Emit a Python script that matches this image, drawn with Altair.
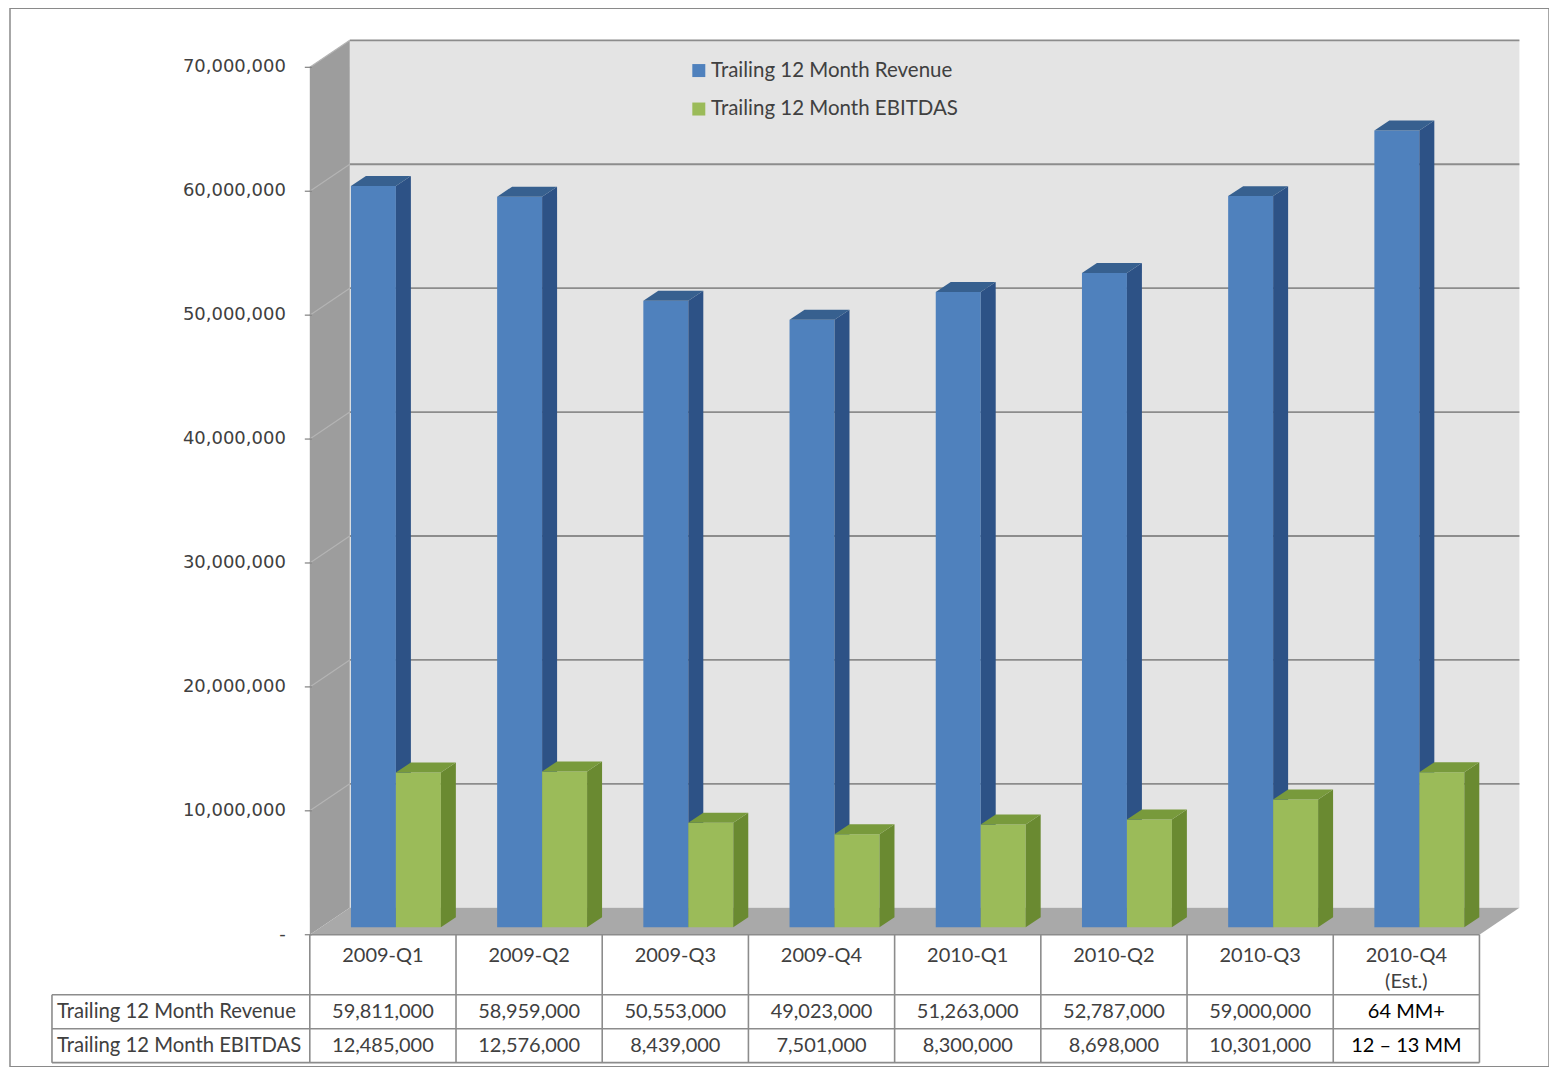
import altair as alt
import pandas as pd

# ---------------- data ----------------
quarters = ["2009-Q1", "2009-Q2", "2009-Q3", "2009-Q4", "2010-Q1", "2010-Q2", "2010-Q3", "2010-Q4"]
quarter_notes = ["", "", "", "", "", "", "", "(Est.)"]
revenue = [59811000, 58959000, 50553000, 49023000, 51263000, 52787000, 59000000, 64300000]
ebitdas = [12485000, 12576000, 8439000, 7501000, 8300000, 8698000, 10301000, 12500000]
revenue_labels = ["59,811,000", "58,959,000", "50,553,000", "49,023,000", "51,263,000",
                  "52,787,000", "59,000,000", "64 MM+"]
ebitdas_labels = ["12,485,000", "12,576,000", "8,439,000", "7,501,000", "8,300,000",
                  "8,698,000", "10,301,000", "12 – 13 MM"]
estimated = [False, False, False, False, False, False, False, True]
series_names = ["Trailing 12 Month Revenue", "Trailing 12 Month EBITDAS"]
y_ticks = [0, 10000000, 20000000, 30000000, 40000000, 50000000, 60000000, 70000000]
y_tick_labels = ["-", "10,000,000", "20,000,000", "30,000,000", "40,000,000",
                 "50,000,000", "60,000,000", "70,000,000"]
y_max = 70000000

# ---------------- layout (pixels -> data units) ----------------
PLOT_W, PLOT_H = 1540, 1059
CAT_PX = 146.3                 # width of one category
PX_PER_VAL = 12.4 / 1e6        # pixels per unit value
X0_PX, Y0_PX = 300, 927        # where category edge -0.5 / value 0 sit in the plot

def dx(px):
    return px / CAT_PX

def dy(px):
    return px / PX_PER_VAL

X_DOMAIN = [-0.5 - dx(X0_PX), -0.5 + dx(PLOT_W - X0_PX)]
Y_DOMAIN = [-dy(PLOT_H - Y0_PX), dy(Y0_PX)]
xs = alt.Scale(domain=X_DOMAIN, nice=False, zero=False)
ys = alt.Scale(domain=Y_DOMAIN, nice=False, zero=False)

n = len(quarters)
LEFT, RIGHT = -0.5, n - 0.5
DEPTH_X, DEPTH_Y = dx(40), dy(27)       # depth of the 3-D box
BAR_X0, BAR_Y0 = dx(13), dy(7.5)         # bars sit a little behind the front plane
BAR_W = dx(45)
TOP_X, TOP_Y = dx(15), dy(10)            # bar depth
HDR_H, ROW_H = dy(60), dy(34)
LABEL_LEFT = LEFT - dx(258)

BLUE, BLUE_SIDE, BLUE_TOP = "#4f81bd", "#2d5286", "#37608f"
GREEN, GREEN_SIDE, GREEN_TOP = "#9bbb59", "#6a8a31", "#789a3c"
TEXT = "#404040"
LINE = "#8c8c8c"
FONT = "Lato"

# ---------------- frames ----------------
wall_df = pd.DataFrame([{"x": LEFT + DEPTH_X, "x2": RIGHT + DEPTH_X, "y": DEPTH_Y, "y2": y_max + DEPTH_Y}])
grid_df = pd.DataFrame([{"x": LEFT + DEPTH_X, "x2": RIGHT + DEPTH_X, "y": v + DEPTH_Y,
                         "sx": LEFT, "sx2": LEFT + DEPTH_X, "sy": v, "sy2": v + DEPTH_Y}
                        for v in y_ticks if v > 0])
side_wall_df = pd.DataFrame([{"x": LEFT, "lo": 0, "hi": y_max},
                             {"x": LEFT + DEPTH_X, "lo": DEPTH_Y, "hi": y_max + DEPTH_Y}])
floor_df = pd.DataFrame([{"y": 0, "xl": LEFT, "xr": RIGHT},
                         {"y": DEPTH_Y, "xl": LEFT + DEPTH_X, "xr": RIGHT + DEPTH_X}])
ytick_df = pd.DataFrame({"v": y_ticks, "label": y_tick_labels,
                         "x": [LEFT - dx(5)] * len(y_ticks), "x2": [LEFT + dx(2)] * len(y_ticks),
                         "lx": [LEFT - dx(24)] * len(y_ticks)})

front_rows, side_rows, top_rows = [], [], []
for i in range(n):
    for s, (name, vals) in enumerate(zip(series_names, [revenue, ebitdas])):
        x1 = i + BAR_X0 - BAR_W + s * BAR_W
        x2 = x1 + BAR_W
        y1 = BAR_Y0
        y2 = BAR_Y0 + vals[i]
        bid = f"{name}-{i}"
        front_rows.append({"series": name, "x": x1, "x2": x2, "y": y1, "y2": y2, "id": bid})
        side_rows += [{"series": name, "id": bid, "x": x2, "lo": y1, "hi": y2},
                      {"series": name, "id": bid, "x": x2 + TOP_X, "lo": y1 + TOP_Y, "hi": y2 + TOP_Y}]
        top_rows += [{"series": name, "id": bid, "y": y2, "xl": x1, "xr": x2},
                     {"series": name, "id": bid, "y": y2 + TOP_Y, "xl": x1 + TOP_X, "xr": x2 + TOP_X}]
front_df = pd.DataFrame(front_rows)
side_df = pd.DataFrame(side_rows)
top_df = pd.DataFrame(top_rows)

# table grid
BOTTOM = -(HDR_H + 2 * ROW_H)
hlines = [{"x": LEFT, "x2": RIGHT, "y": 0, "y2": 0}]
for k in range(3):
    yy = -(HDR_H + k * ROW_H)
    hlines.append({"x": LABEL_LEFT, "x2": RIGHT, "y": yy, "y2": yy})
vlines = [{"x": LEFT + k, "x2": LEFT + k, "y": 0, "y2": BOTTOM} for k in range(n + 1)]
vlines.append({"x": LABEL_LEFT, "x2": LABEL_LEFT, "y": -HDR_H, "y2": BOTTOM})
tlines_df = pd.DataFrame(hlines + vlines)

header_df = pd.DataFrame({"x": list(range(n)),
                          "y": [-dy(11)] * n,
                          "label": [q + ("\n" + nt if nt else "") for q, nt in zip(quarters, quarter_notes)]})
cell_rows = []
for i in range(n):
    for r, labels in enumerate([revenue_labels, ebitdas_labels]):
        cell_rows.append({"x": i, "y": -(HDR_H + (r + 0.5) * ROW_H), "label": labels[i],
                          "color": "#000000" if estimated[i] else TEXT})
cell_df = pd.DataFrame(cell_rows)
rowlab_df = pd.DataFrame({"x": [LABEL_LEFT + dx(5)] * 2,
                          "y": [-(HDR_H + 0.5 * ROW_H), -(HDR_H + 1.5 * ROW_H)],
                          "label": series_names})

# ---------------- layers ----------------
back_wall = alt.Chart(wall_df).mark_rect(color="#e4e4e4").encode(
    x=alt.X("x:Q", scale=xs, axis=None), x2="x2:Q",
    y=alt.Y("y:Q", scale=ys, axis=None), y2="y2:Q")

grid_back = alt.Chart(grid_df).mark_rule(color=LINE, strokeWidth=1.8).encode(
    x=alt.X("x:Q", scale=xs, axis=None), x2="x2:Q",
    y=alt.Y("y:Q", scale=ys, axis=None))

side_wall = alt.Chart(side_wall_df).mark_area(color="#9d9d9d", orient="vertical").encode(
    x=alt.X("x:Q", scale=xs, axis=None),
    y=alt.Y("hi:Q", scale=ys, axis=None, stack=None), y2="lo:Q")

grid_side = alt.Chart(grid_df).mark_rule(color="#b4b4b4", strokeWidth=1.2).encode(
    x=alt.X("sx:Q", scale=xs, axis=None), x2="sx2:Q",
    y=alt.Y("sy:Q", scale=ys, axis=None), y2="sy2:Q")

floor = alt.Chart(floor_df).mark_area(color="#a9a9a9", orient="horizontal").encode(
    y=alt.Y("y:Q", scale=ys, axis=None),
    x=alt.X("xl:Q", scale=xs, axis=None, stack=None), x2="xr:Q")

ytick_rules = alt.Chart(ytick_df).mark_rule(color="#808080", strokeWidth=1.2).encode(
    x=alt.X("x:Q", scale=xs, axis=None), x2="x2:Q",
    y=alt.Y("v:Q", scale=ys, axis=None))
ytick_text = alt.Chart(ytick_df).mark_text(font="DejaVu Sans", fontSize=18, color=TEXT,
                                           align="right", baseline="middle").encode(
    x=alt.X("lx:Q", scale=xs, axis=None),
    y=alt.Y("v:Q", scale=ys, axis=None), text="label:N")

color_enc = alt.Color("series:N", scale=alt.Scale(domain=series_names, range=[BLUE, GREEN]),
                      legend=alt.Legend(title=None, orient="none", legendX=679, legendY=52,
                                        direction="vertical", symbolType="square", symbolSize=169,
                                        symbolStrokeWidth=0, symbolOpacity=1, labelFont=FONT,
                                        labelFontSize=20.5, labelColor=TEXT, rowPadding=17.5,
                                        labelOffset=2, labelLimit=0, padding=0))

def bar_layers(name, side_color, top_color):
    f = alt.datum.series == name
    front = alt.Chart(front_df).transform_filter(f).mark_rect().encode(
        x=alt.X("x:Q", scale=xs, axis=None), x2="x2:Q",
        y=alt.Y("y:Q", scale=ys, axis=None), y2="y2:Q", color=color_enc)
    side = alt.Chart(side_df).transform_filter(f).mark_area(color=side_color, orient="vertical").encode(
        x=alt.X("x:Q", scale=xs, axis=None),
        y=alt.Y("hi:Q", scale=ys, axis=None, stack=None), y2="lo:Q", detail="id:N")
    top = alt.Chart(top_df).transform_filter(f).mark_area(color=top_color, orient="horizontal").encode(
        y=alt.Y("y:Q", scale=ys, axis=None),
        x=alt.X("xl:Q", scale=xs, axis=None, stack=None), x2="xr:Q", detail="id:N")
    return [front, side, top]

table_lines = alt.Chart(tlines_df).mark_rule(color=LINE, strokeWidth=1.6).encode(
    x=alt.X("x:Q", scale=xs, axis=None), x2="x2:Q",
    y=alt.Y("y:Q", scale=ys, axis=None), y2="y2:Q")

header_text = alt.Chart(header_df).mark_text(font=FONT, fontSize=20, color=TEXT, baseline="top",
                                             lineBreak="\n", lineHeight=26).encode(
    x=alt.X("x:Q", scale=xs, axis=None), y=alt.Y("y:Q", scale=ys, axis=None), text="label:N")

cell_text = alt.Chart(cell_df).mark_text(font=FONT, fontSize=20, baseline="middle").encode(
    x=alt.X("x:Q", scale=xs, axis=None), y=alt.Y("y:Q", scale=ys, axis=None), text="label:N",
    color=alt.Color("color:N", scale=None))

rowlab_text = alt.Chart(rowlab_df).mark_text(font=FONT, fontSize=20.3, color=TEXT, align="left",
                                             baseline="middle").encode(
    x=alt.X("x:Q", scale=xs, axis=None), y=alt.Y("y:Q", scale=ys, axis=None), text="label:N")

layers = [back_wall, grid_back, side_wall, grid_side, floor, ytick_rules, ytick_text]
layers += bar_layers(series_names[0], BLUE_SIDE, BLUE_TOP)
layers += bar_layers(series_names[1], GREEN_SIDE, GREEN_TOP)
layers += [table_lines, header_text, cell_text, rowlab_text]

chart = alt.layer(*layers).properties(
    width=PLOT_W, height=PLOT_H,
    autosize=alt.AutoSizeParams(type="none"),
    padding={"left": 2, "top": 0, "right": 0, "bottom": 0},
    background="white",
).configure_view(stroke="#8a8a8a", strokeWidth=1.5, fill="white")

chart.save("out.html", embed_options={"renderer": "svg", "actions": False})
